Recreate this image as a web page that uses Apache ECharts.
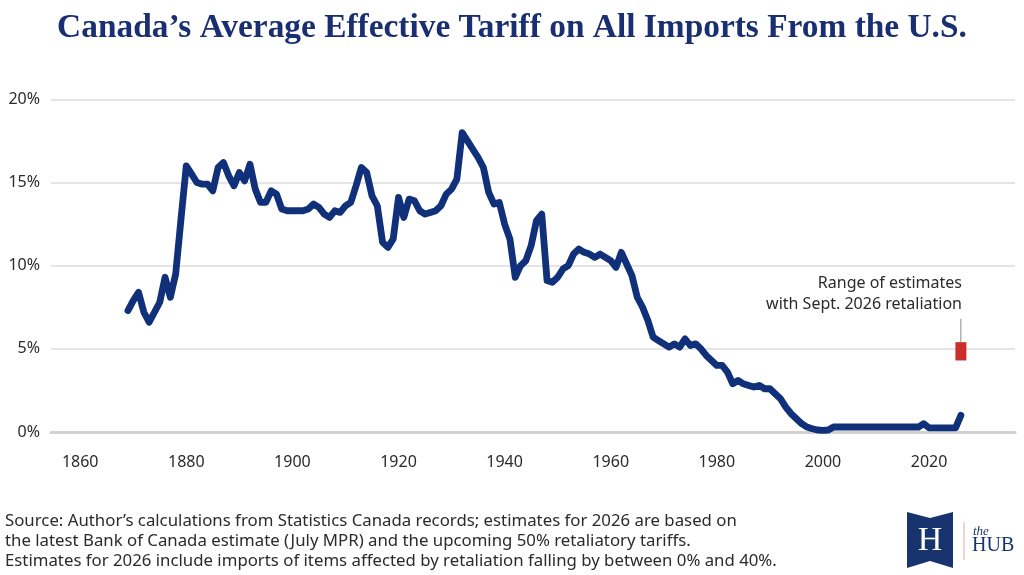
<!DOCTYPE html>
<html>
<head>
<meta charset="utf-8">
<script src="https://cdn.jsdelivr.net/npm/echarts@6/dist/echarts.min.js"></script>
<style>
  html, body { margin: 0; padding: 0; background: #fff; }
  #chart { width: 1024px; height: 575px; }
</style>
</head>
<body>
<div id="chart"></div>
<script>
// data
var startYear = 1869;
var tariff = [
  7.3, 7.9, 8.4, 7.2, 6.6, 7.2, 7.8, 9.3, 8.1, 9.5,          // 1869-1878
  12.8, 16.0, 15.5, 15.0, 14.9, 14.9, 14.5, 15.9, 16.2, 15.4, // 1879-1888
  14.8, 15.6, 15.1, 16.1, 14.6, 13.8, 13.8, 14.5, 14.3, 13.4, // 1889-1898
  13.3, 13.3, 13.3, 13.3, 13.4, 13.7, 13.5, 13.1, 12.9, 13.3, // 1899-1908
  13.2, 13.6, 13.8, 14.8, 15.9, 15.6, 14.2, 13.6, 11.4, 11.1, // 1909-1918
  11.6, 14.1, 12.9, 14.0, 13.9, 13.3, 13.1, 13.2, 13.3, 13.6, // 1919-1928
  14.3, 14.6, 15.2, 18.0, 17.5, 17.0, 16.5, 15.9, 14.4, 13.7, // 1929-1938
  13.8, 12.5, 11.6, 9.3, 10.0, 10.3, 11.2, 12.7, 13.1, 9.1,   // 1939-1948
  9.0, 9.3, 9.8, 10.0, 10.7, 11.0, 10.8, 10.7, 10.5, 10.7,    // 1949-1958
  10.5, 10.3, 9.9, 10.8, 10.1, 9.4, 8.1, 7.5, 6.7, 5.7,       // 1959-1968
  5.5, 5.3, 5.1, 5.3, 5.1, 5.6, 5.2, 5.3, 5.0, 4.6,           // 1969-1978
  4.3, 4.0, 4.0, 3.6, 2.9, 3.1, 2.9, 2.8, 2.7, 2.8,           // 1979-1988
  2.6, 2.6, 2.3, 2.0, 1.5, 1.1, 0.8, 0.5, 0.3, 0.2,           // 1989-1998
  0.12, 0.1, 0.12, 0.3, 0.3, 0.3, 0.3, 0.3, 0.3, 0.3,         // 1999-2008
  0.3, 0.3, 0.3, 0.3, 0.3, 0.3, 0.3, 0.3, 0.3, 0.3,           // 2009-2018
  0.5, 0.25, 0.25, 0.25, 0.25, 0.25, 0.25, 1.0                // 2019-2026
];
var yearLabels = [1860, 1880, 1900, 1920, 1940, 1960, 1980, 2000, 2020];
var estimateYear = 2026;
var estimateRange = [4.3, 5.4];   // range of estimates with retaliation
var calloutTop = 6.8;

var lineData = tariff.map(function (v, i) { return [startYear + i, v]; });

var navy = '#10307a';
var textCol = '#2b2b2b';
var gridCol = '#dcdcdc';

var myChart = echarts.init(document.getElementById('chart'));
var option = {
    animation: false,
    backgroundColor: '#fff',
    grid: {
        left: 51,
        right: 9,
        top: 99.3,
        bottom: 143,
        containLabel: false
    },
    title: {
        text: 'Canada\u2019s Average Effective Tariff on All Imports From the U.S.',
        left: 'center',
        top: 7,
        textStyle: {
            fontFamily: 'Liberation Serif',
            fontWeight: 'bold',
            fontSize: 33.4,
            color: '#1a2f72'
        }
    },
    xAxis: {
        type: 'value',
        min: 1854.5,
        max: 2036.2,
        splitLine: { show: false },
        axisTick: { show: false },
        axisLine: {
            show: true,
            lineStyle: { color: '#d2d2d2', width: 3 }
        },
        axisLabel: {
            customValues: yearLabels,
            formatter: function (v) { return String(v); },
            margin: 22,
            fontFamily: 'Noto Sans',
            fontSize: 16,
            color: textCol
        }
    },
    yAxis: {
        type: 'value',
        min: 0,
        max: 20,
        interval: 5,
        axisLine: { show: false },
        axisTick: { show: false },
        splitLine: {
            show: true,
            lineStyle: { color: gridCol, width: 1.5 }
        },
        axisLabel: {
            formatter: '{value}%',
            margin: 11,
            fontFamily: 'Noto Sans',
            fontSize: 16,
            color: textCol
        }
    },
    series: [
        {
            name: 'tariff',
            type: 'line',
            data: lineData,
            showSymbol: false,
            smooth: false,
            lineStyle: {
                color: navy,
                width: 6.8,
                cap: 'round',
                join: 'round'
            },
            z: 5
        },
        {
            name: 'callout',
            type: 'line',
            data: [[estimateYear, estimateRange[1]], [estimateYear, calloutTop]],
            showSymbol: false,
            lineStyle: { color: '#8a8a8a', width: 1 },
            z: 3
        },
        {
            name: 'estimate',
            type: 'custom',
            data: [[estimateYear, estimateRange[0], estimateRange[1]]],
            renderItem: function (params, api) {
                var lo = api.coord([api.value(0), api.value(1)]);
                var hi = api.coord([api.value(0), api.value(2)]);
                var w = 11;
                return {
                    type: 'rect',
                    shape: { x: lo[0] - w / 2, y: hi[1], width: w, height: lo[1] - hi[1] },
                    style: { fill: '#c9302c' }
                };
            },
            z: 4
        }
    ],
    graphic: [
        {
            type: 'text',
            x: 962,
            y: 273,
            style: {
                text: 'Range of estimates\nwith Sept. 2026 retaliation',
                align: 'right',
                verticalAlign: 'top',
                font: '16px "Noto Sans"',
                lineHeight: 21,
                fill: textCol
            }
        },
        {
            type: 'text',
            x: 5,
            y: 511.5,
            style: {
                text: 'Source: Author\u2019s calculations from Statistics Canada records; estimates for 2026 are based on\nthe latest Bank of Canada estimate (July MPR) and the upcoming 50% retaliatory tariffs.\nEstimates for 2026 include imports of items affected by retaliation falling by between 0% and 40%.',
                verticalAlign: 'top',
                font: '16.8px "Noto Sans"',
                lineHeight: 19.7,
                fill: textCol
            }
        },
        // the HUB logo
        {
            type: 'polygon',
            shape: {
                points: [[907, 512], [930, 518], [953, 512], [953, 568], [930, 561], [907, 568]]
            },
            style: { fill: '#17346f' }
        },
        {
            type: 'text',
            x: 930,
            y: 541,
            style: {
                text: 'H',
                align: 'center',
                verticalAlign: 'middle',
                font: '34px "Liberation Serif"',
                fill: '#fff'
            }
        },
        {
            type: 'line',
            shape: { x1: 964, y1: 522, x2: 964, y2: 560 },
            style: { stroke: '#e6a5a0', lineWidth: 1 }
        },
        {
            type: 'text',
            x: 973,
            y: 532,
            style: {
                text: 'the',
                verticalAlign: 'middle',
                font: 'italic 13px "Liberation Serif"',
                fill: '#17346f'
            }
        },
        {
            type: 'text',
            x: 972,
            y: 546,
            style: {
                text: 'HUB',
                verticalAlign: 'middle',
                font: '20px "Liberation Serif"',
                fill: '#17346f'
            }
        }
    ]
};
myChart.setOption(option);
</script>
</body>
</html>
